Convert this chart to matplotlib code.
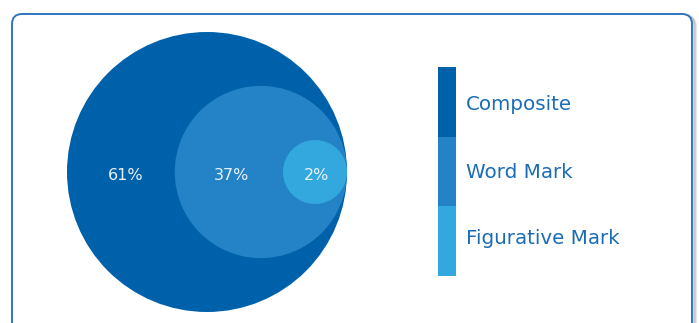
import matplotlib.pyplot as plt
from matplotlib.patches import Circle, FancyBboxPatch, Rectangle
import numpy as np

categories = ['Composite', 'Word Mark', 'Figurative Mark']
shares = [61, 37, 2]
labels = ['61%', '37%', '2%']
colors = ['#0061ab', '#2383c6', '#33a8df']

W, H = 699, 323
fig = plt.figure(figsize=(W / 100, H / 100), dpi=100)
ax = fig.add_axes([0, 0, 1, 1])
ax.set_xlim(0, W)
ax.set_ylim(H, 0)
ax.axis('off')

# card with shadow
for i, a in enumerate([0.10, 0.18, 0.28]):
    ax.add_patch(FancyBboxPatch((12 + 4 - i, 14 + 3 - i), 680, 330,
                                boxstyle='round,pad=0,rounding_size=10',
                                fc='none', ec='#808080', lw=2, alpha=a))
ax.add_patch(FancyBboxPatch((12, 14), 680, 330, boxstyle='round,pad=0,rounding_size=10',
                            fc='white', ec='#2f77c0', lw=1.4))

# nested circles: radius from cumulative share (with a minimum for tiny slices)
R = 140
right_x = 347
cy = 172
cum = np.cumsum(shares[::-1])[::-1] / 100.0
radii = [max(R * np.sqrt(c) * (0.985 if c < 1 else 1), 32) for c in cum]
centers = []
for r, col in zip(radii, colors):
    cx = right_x - r
    centers.append(cx)
    ax.add_patch(Circle((cx, cy), r, fc=col, ec='none'))

# label positions: midpoint of the visible part of each circle
label_x = []
for i in range(len(radii)):
    left = centers[i] - radii[i]
    if i + 1 < len(radii):
        right = centers[i + 1] - radii[i + 1]
    else:
        right = right_x
    off = 5 if i == 0 else (2 if i == len(radii) - 1 else 3)
    label_x.append((left + right) / 2 + off)
for x, lab in zip(label_x, labels):
    ax.text(x, cy + 3, lab, color='#e8f1fa', fontsize=11.5, ha='center', va='center',
            family='DejaVu Sans')

# legend bar
seg_top = 67
seg_h = 69.7
for i, (cat, col) in enumerate(zip(categories, colors)):
    y0 = seg_top + i * seg_h
    ax.add_patch(Rectangle((438, y0), 18, seg_h, fc=col, ec='none'))
    ax.text(466, 105 + i * 67, cat, color='#1b6cb7', fontsize=14.3,
            ha='left', va='center', family='DejaVu Sans')

fig.savefig('out.png', dpi=100)
